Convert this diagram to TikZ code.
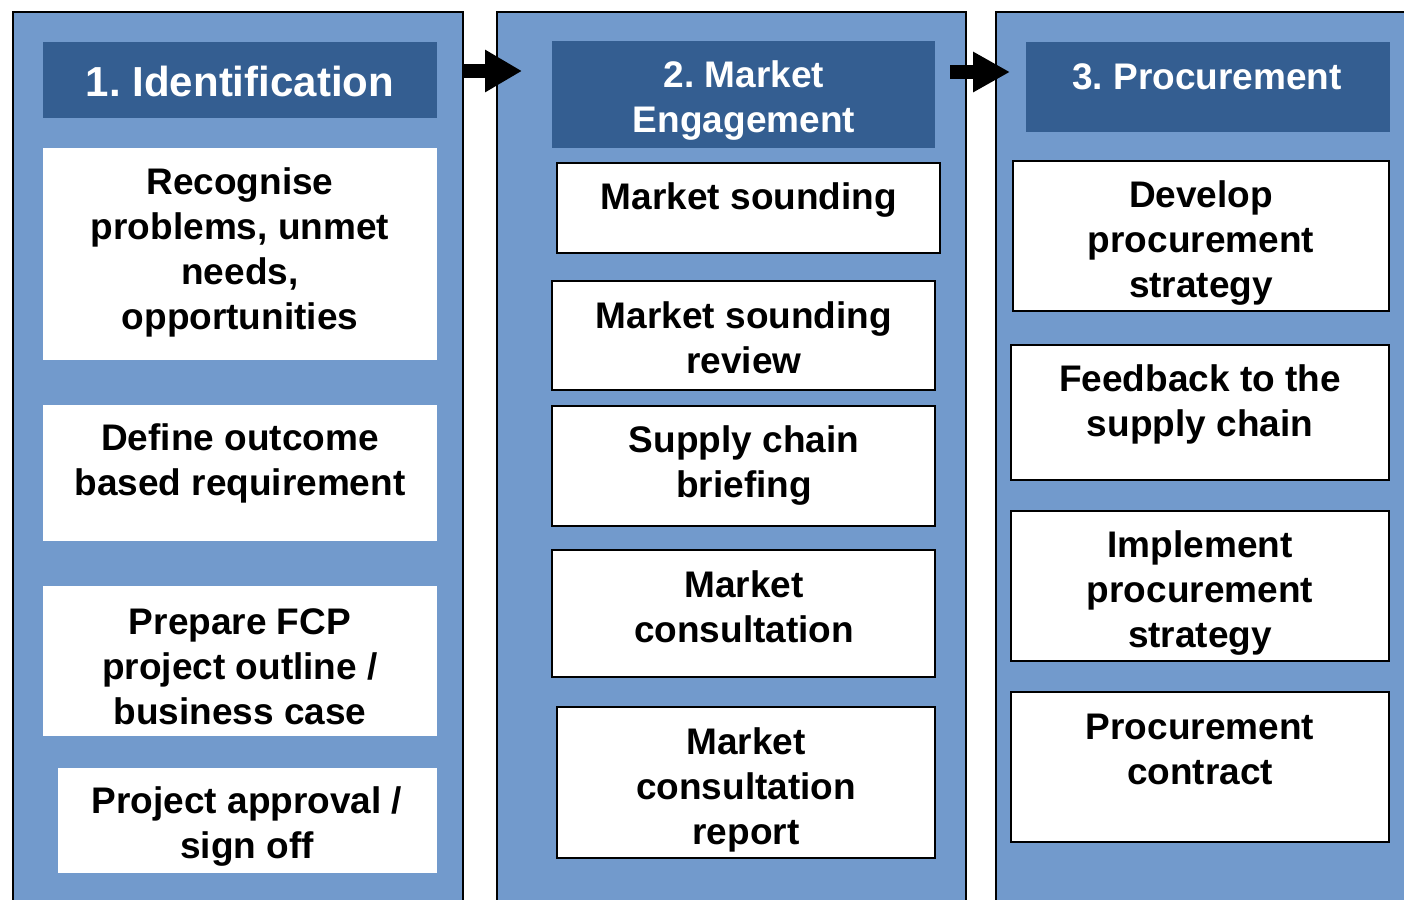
\documentclass[tikz,border=0pt]{standalone}
\usepackage{fontspec}
\setmainfont{Liberation Sans}
\usetikzlibrary{arrows.meta,fit}
\definecolor{colfill}{RGB}{114,154,204}
\definecolor{headfill}{RGB}{52,94,145}
\tikzset{
 column/.style={draw=black, line width=1pt, fill=colfill, inner sep=0pt},
 header/.style={fill=headfill, inner sep=0pt},
 plainbox/.style={fill=white, inner sep=0pt},
 framedbox/.style={fill=white, draw=black, line width=1pt, inner sep=0pt},
 txt/.style={font=\bfseries\fontsize{18.5}{22.5}\selectfont, align=center, inner sep=0pt},
 htxt/.style={font=\bfseries\fontsize{18.5}{22.5}\selectfont, text=white, align=center, inner sep=0pt},
 bigarrow/.style={line width=7pt, -{Triangle[length=18.5pt,width=20pt]}},
}
\frenchspacing
\begin{document}
\begin{tikzpicture}[x=0.5pt,y=-0.5pt]
\useasboundingbox (0,0) rectangle (1404,900);
\clip (0,0) rectangle (1404,900);
\fill[white] (0,0) rectangle (1404,900);
% columns
\node[column, fit={(13,12) (463,910)}] (col1) {};
\node[column, fit={(497,12) (966,910)}] (col2) {};
\node[column, fit={(996,12) (1420,910)}] (col3) {};
% headers
\node[header, fit={(43,42) (437,118)}] (h1) {};
\node[header, fit={(552,41) (935,148)}] (h2) {};
\node[header, fit={(1026,42) (1390,132)}] (h3) {};
\node[htxt, font=\bfseries\fontsize{21}{25}\selectfont] (h1t) at (240,81) {1. Identification};
\node[htxt] (h2t) at (744,101) {2. Market\\Engagement};
\node[htxt] (h3t) at (1207,77) {3. Procurement};
% column 1 boxes
\node[plainbox, fit={(43,148) (437,360)}] (b1) {};
\node[plainbox, fit={(43,405) (437,541)}] (b2) {};
\node[plainbox, fit={(43,586) (437,736)}] (b3) {};
\node[plainbox, fit={(58,768) (437,873)}] (b4) {};
\node[txt] (b1t) at (240,252) {Recognise\\problems, unmet\\needs,\\opportunities};
\node[txt] (b2t) at (240,463.5) {Define outcome\\based requirement};
\node[txt] (b3t) at (240,667) {Prepare FCP\\project outline /\\business case};
\node[txt] (b4t) at (247,826.5) {Project approval /\\sign off};
% column 2 boxes
\node[framedbox, fit={(557,163) (940,253)}] (c1) {};
\node[framedbox, fit={(552,281) (935,390)}] (c2) {};
\node[framedbox, fit={(552,406) (935,526)}] (c3) {};
\node[framedbox, fit={(552,550) (935,677)}] (c4) {};
\node[framedbox, fit={(557,707) (935,858)}] (c5) {};
\node[txt] (c1t) at (749,200) {Market sounding};
\node[txt] (c2t) at (744,338) {Market sounding\\review};
\node[txt] (c3t) at (744,466) {Supply chain\\briefing};
\node[txt] (c4t) at (744,607) {Market\\consultation};
\node[txt] (c5t) at (746,789.5) {Market\\consultation\\report};
% column 3 boxes
\node[framedbox, fit={(1013,161) (1389,311)}] (d1) {};
\node[framedbox, fit={(1011,345) (1389,480)}] (d2) {};
\node[framedbox, fit={(1011,511) (1389,661)}] (d3) {};
\node[framedbox, fit={(1011,692) (1389,842)}] (d4) {};
\node[txt] (d1t) at (1201,243.5) {Develop\\procurement\\strategy};
\node[txt] (d2t) at (1200,404) {Feedback to the\\supply chain};
\node[txt] (d3t) at (1200,593) {Implement\\procurement\\strategy};
\node[txt] (d4t) at (1200,749.5) {Procurement\\contract};
% arrows
\coordinate (a1s) at (463,71);
\coordinate (a1e) at (522,71);
\coordinate (a2s) at (950,72);
\coordinate (a2e) at (1010,72);
\draw[bigarrow] (a1s) -- (a1e);
\draw[bigarrow, -{Triangle[length=18.5pt,width=19pt]}] (a2s) -- (a2e);
\end{tikzpicture}
\end{document}
